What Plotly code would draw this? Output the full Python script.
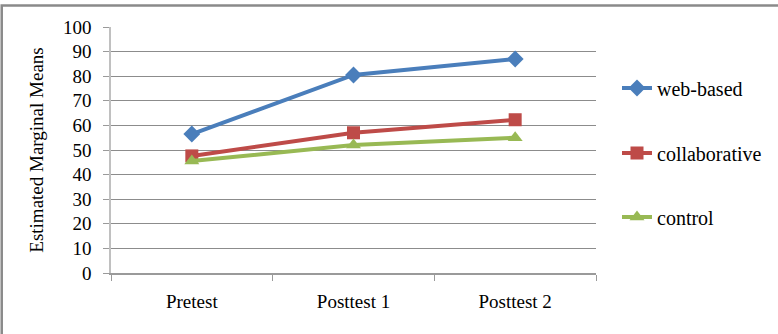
import plotly.graph_objects as go

categories = ["Pretest", "Posttest 1", "Posttest 2"]
web_based = [56.5, 80.5, 87.0]
collaborative = [47.6, 57.0, 62.3]
control = [45.5, 52.0, 55.0]
y_ticks = [0, 10, 20, 30, 40, 50, 60, 70, 80, 90, 100]

FONT = "Liberation Serif, Times New Roman, serif"
FS = 19

series = [
    ("web-based", web_based, "#4A7EBB", "diamond", "legend"),
    ("collaborative", collaborative, "#BE4B48", "square", "legend2"),
    ("control", control, "#98B954", "triangle-up", "legend3"),
]

fig = go.Figure()
for name, vals, color, sym, leg in series:
    fig.add_trace(go.Scatter(
        x=categories, y=vals, name=name, mode="lines+markers",
        line=dict(color=color, width=4),
        marker=dict(symbol=sym, size=13, color=color),
        legend=leg, showlegend=True,
    ))

W, H = 778, 334
L, R, T, B = 111, 181, 27, 61
pw, ph = W - L - R, H - T - B

def px_to_paper_y(py):
    return (H - B - py) / ph

def px_to_paper_x(px):
    return (px - L) / pw

leg_common = dict(font=dict(family=FONT, size=20, color="#000"),
                  bgcolor="rgba(0,0,0,0)", xanchor="left", yanchor="middle",
                  x=px_to_paper_x(617), visible=True)

fig.update_layout(
    width=W, height=H,
    showlegend=True,
    margin=dict(l=L, r=R, t=T, b=B, pad=0),
    paper_bgcolor="white", plot_bgcolor="white",
    font=dict(family=FONT, size=FS, color="#000"),
    legend=dict(**leg_common, y=px_to_paper_y(88)),
    legend2=dict(**leg_common, y=px_to_paper_y(153)),
    legend3=dict(**leg_common, y=px_to_paper_y(217)),
    xaxis=dict(
        type="category", range=[-0.5, 2.5],
        showgrid=False, showline=True, linecolor="#9a9a9a", linewidth=1.5,
        ticks="outside", tickson="boundaries", ticklen=6, tickcolor="#9a9a9a",
        tickfont=dict(family=FONT, size=FS, color="#000"),
        ticklabelstandoff=10,
        zeroline=False, fixedrange=True,
    ),
    yaxis=dict(
        range=[0, 100], tickvals=y_ticks,
        showgrid=True, gridcolor="#8c8c8c", gridwidth=1,
        showline=True, linecolor="#c0c0c0", linewidth=1.5,
        ticks="outside", ticklen=6, tickcolor="#9a9a9a",
        tickfont=dict(family=FONT, size=FS, color="#000"),
        ticklabelstandoff=8,
        title=dict(text="Estimated Marginal Means", font=dict(family=FONT, size=FS, color="#000"), standoff=14),
        zeroline=False, fixedrange=True,
    ),
    shapes=[dict(
        type="rect", xref="paper", yref="paper",
        x0=px_to_paper_x(1.5), x1=px_to_paper_x(800),
        y0=px_to_paper_y(400), y1=px_to_paper_y(5.5),
        line=dict(color="#8a8a8a", width=2.5), fillcolor="rgba(0,0,0,0)", layer="below",
    )],
)

fig.write_html("out.html")
